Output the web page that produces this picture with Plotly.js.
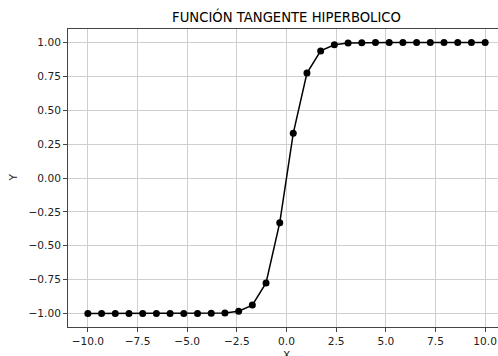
<!DOCTYPE html>
<html>
<head>
<meta charset="utf-8">
<script src="https://cdn.plot.ly/plotly-3.0.1.min.js"></script>
<style>
html,body{margin:0;padding:0;overflow:hidden;background:#fff;width:498px;height:356px;}
#chart{width:520px;height:356px;}
</style>
</head>
<body>
<div id="chart"></div>
<script>
const xValues = [-10.00, -9.31, -8.62, -7.93, -7.24, -6.55, -5.86, -5.17, -4.48, -3.79,
                 -3.10, -2.41, -1.72, -1.03, -0.34, 0.34, 1.03, 1.72, 2.41, 3.10,
                 3.79, 4.48, 5.17, 5.86, 6.55, 7.24, 7.93, 8.62, 9.31, 10.00];
const yValues = [-1.000, -1.000, -1.000, -1.000, -1.000, -1.000, -1.000, -1.000, -1.000, -0.999,
                 -0.996, -0.984, -0.938, -0.775, -0.330, 0.330, 0.775, 0.938, 0.984, 0.996,
                 0.999, 1.000, 1.000, 1.000, 1.000, 1.000, 1.000, 1.000, 1.000, 1.000];
const xTicks = [-10, -7.5, -5, -2.5, 0, 2.5, 5, 7.5, 10];
const xTickText = ["\u221210.0", "\u22127.5", "\u22125.0", "\u22122.5", "0.0", "2.5", "5.0", "7.5", "10.0"];
const yTicks = [-1, -0.75, -0.5, -0.25, 0, 0.25, 0.5, 0.75, 1];
const yTickText = ["\u22121.00", "\u22120.75", "\u22120.50", "\u22120.25", "0.00", "0.25", "0.50", "0.75", "1.00"];

const font = {family: "DejaVu Sans", size: 10.6, color: "#222"};
const axisCommon = {
  showline: true, mirror: true, linecolor: "#444", linewidth: 1,
  showgrid: true, gridcolor: "#cfcfcf", gridwidth: 1,
  zeroline: false, ticks: "outside", ticklen: 4, tickcolor: "#444",
  tickfont: font
};
Plotly.newPlot("chart", [{
  x: xValues, y: yValues, type: "scatter", mode: "lines+markers",
  line: {color: "#000", width: 1.5},
  marker: {color: "#000", size: 7}
}], {
  width: 520, height: 356,
  margin: {l: 68, r: 15, t: 29, b: 29},
  paper_bgcolor: "#fff", plot_bgcolor: "#fff",
  showlegend: false,
  title: {text: "FUNCIÓN TANGENTE HIPERBOLICO", font: {family: "DejaVu Sans", size: 13.2, color: "#000"},
          x: 0.5, xref: "paper", y: 1, yref: "paper", yanchor: "bottom", pad: {b: 7}},
  xaxis: Object.assign({}, axisCommon, {range: [-11, 11], tickvals: xTicks, ticktext: xTickText}),
  yaxis: Object.assign({}, axisCommon, {range: [-1.1, 1.1], tickvals: yTicks, ticktext: yTickText}),
  annotations: [
    {text: "X", xref: "paper", yref: "paper", x: 0.5, y: -0.068, xanchor: "center", yanchor: "top",
     showarrow: false, font: font},
    {text: "Y", xref: "paper", yref: "paper", x: -0.127, y: 0.5, xanchor: "center", yanchor: "middle",
     textangle: -90, showarrow: false, font: font}
  ]
}, {displayModeBar: false, staticPlot: true});
</script>
</body>
</html>
